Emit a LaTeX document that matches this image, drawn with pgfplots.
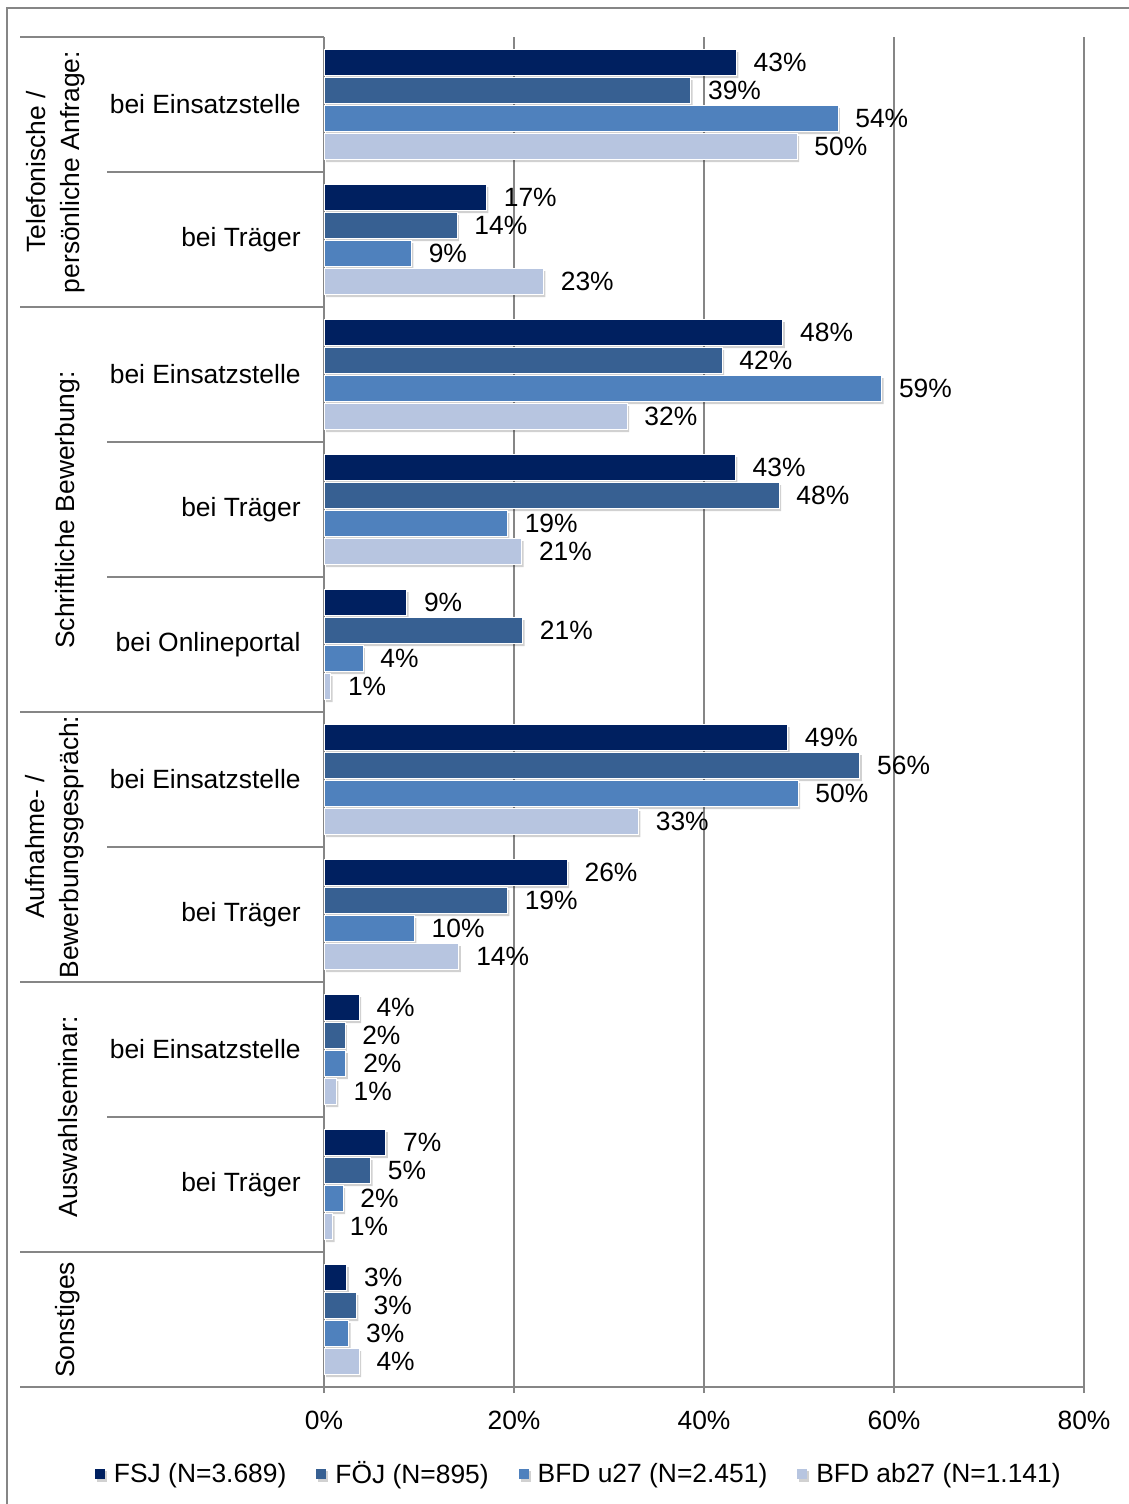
\documentclass[border=0pt]{standalone}
\usepackage{fontspec}
\setmainfont{Liberation Sans}
\usepackage{pgfplots}
\pgfplotsset{compat=1.18}

\definecolor{fsj}{RGB}{0,32,96}
\definecolor{foej}{RGB}{55,96,146}
\definecolor{bfdu}{RGB}{79,129,189}
\definecolor{bfda}{RGB}{183,197,224}
\definecolor{rule}{RGB}{134,134,134}

\newcommand{\cfont}{\fontsize{13.2}{17}\selectfont}

\begin{document}
\begin{tikzpicture}
\useasboundingbox (0,0) rectangle (564.5pt,-752pt);
\begin{axis}[
  at={(162pt,-18.5pt)}, anchor=north west,
  scale only axis, width=380pt, height=675pt,
  xbar, bar width=13pt,
  xmin=0, xmax=80, ymin=-0.5, ymax=9.5,
  axis x line*=bottom, axis y line*=left,
  axis line style={draw=rule, line width=1pt, -},
  xtick={0,20,40,60,80},
  xticklabel={\pgfmathprintnumber{\tick}\%},
  xtick style={draw=rule, line width=1pt},
  tick align=outside, major tick length=3pt,
  xticklabel style={inner sep=0pt, yshift=-9pt},
  xmajorgrids, grid style={draw=rule, line width=0.8pt},
  ytick={0,...,9},
  yticklabels={,bei Träger,bei Einsatzstelle,bei Träger,bei Einsatzstelle,bei Onlineportal,bei Träger,bei Einsatzstelle,bei Träger,bei Einsatzstelle},
  ytick style={draw=none},
  yticklabel style={inner sep=0pt, anchor=east, xshift=-8.5pt},
  tick label style={font=\cfont},
  /pgf/number format/assume math mode=true,
  nodes near coords={\pgfplotspointmeta\%},
  point meta=explicit symbolic,
  every node near coord/.append style={font=\cfont, black, anchor=west, inner sep=0pt, xshift=8.5pt},
  every axis plot/.append style={draw=white, line width=0.4pt},
  legend style={at={(0.334,-0.0644)}, anchor=center, draw=none, fill=none,
    legend columns=4, font=\cfont,
    nodes={inner sep=0pt},
    /tikz/every odd column/.append style={column sep=4.5pt},
    /tikz/every even column/.append style={column sep=15pt}},
  legend image code/.code={\fill[#1, draw=none] (0pt,-2.6pt) rectangle (5pt,2.6pt);},
  clip=false,
]
\addplot[fill=fsj, bar shift=21pt,
  preaction={fill=black, opacity=0.18, draw=none, transform canvas={shift={(1pt,-1.3pt)}}}] coordinates {
  (43.4,9) [43] (17.1,8) [17] (48.3,7) [48] (43.3,6) [43] (8.7,5) [9]
  (48.8,4) [49] (25.6,3) [26] (3.7,2) [4] (6.5,1) [7] (2.4,0) [3]};
\addplot[fill=foej, bar shift=7pt,
  preaction={fill=black, opacity=0.18, draw=none, transform canvas={shift={(1pt,-1.3pt)}}}] coordinates {
  (38.6,9) [39] (14.0,8) [14] (41.9,7) [42] (47.9,6) [48] (20.9,5) [21]
  (56.4,4) [56] (19.3,3) [19] (2.2,2) [2] (4.9,1) [5] (3.4,0) [3]};
\addplot[fill=bfdu, bar shift=-7pt,
  preaction={fill=black, opacity=0.18, draw=none, transform canvas={shift={(1pt,-1.3pt)}}}] coordinates {
  (54.1,9) [54] (9.2,8) [9] (58.7,7) [59] (19.3,6) [19] (4.1,5) [4]
  (49.9,4) [50] (9.5,3) [10] (2.3,2) [2] (2.0,1) [2] (2.6,0) [3]};
\addplot[fill=bfda, bar shift=-21pt,
  preaction={fill=black, opacity=0.18, draw=none, transform canvas={shift={(1pt,-1.3pt)}}}] coordinates {
  (49.8,9) [50] (23.1,8) [23] (31.9,7) [32] (20.8,6) [21] (0.7,5) [1]
  (33.1,4) [33] (14.2,3) [14] (1.3,2) [1] (0.9,1) [1] (3.7,0) [4]};
\legend{FSJ (N=3.689),FÖJ (N=895),BFD u27 (N=2.451),BFD ab27 (N=1.141)}
\end{axis}
\begin{scope}[x=0.5pt,y=-0.5pt]
  % outer frame
  \draw[rule, line width=0.75pt] (7,1504) -- (7,8) -- (1129,8);
  % group and sub-category separators
  \foreach \yy in {37,307,712,982,1252} \draw[rule, line width=1pt] (20,\yy) -- (324,\yy);
  \foreach \yy in {172,442,577,847,1117} \draw[rule, line width=1pt] (107,\yy) -- (324,\yy);
  \draw[rule, line width=1pt] (20,1387) -- (324,1387);
  % group labels
  \node[rotate=90, align=center, font=\cfont] at (56,172) {Telefonische /\\persönliche Anfrage:};
  \node[rotate=90, font=\cfont] at (68,510) {Schriftliche Bewerbung:};
  \node[rotate=90, align=center, font=\cfont] at (55,847) {Aufnahme- /\\Bewerbungsgespräch:};
  \node[rotate=90, font=\cfont] at (68,1117) {Auswahlseminar:};
  \node[rotate=90, font=\cfont] at (68,1320) {Sonstiges};
\end{scope}
\end{tikzpicture}
\end{document}
